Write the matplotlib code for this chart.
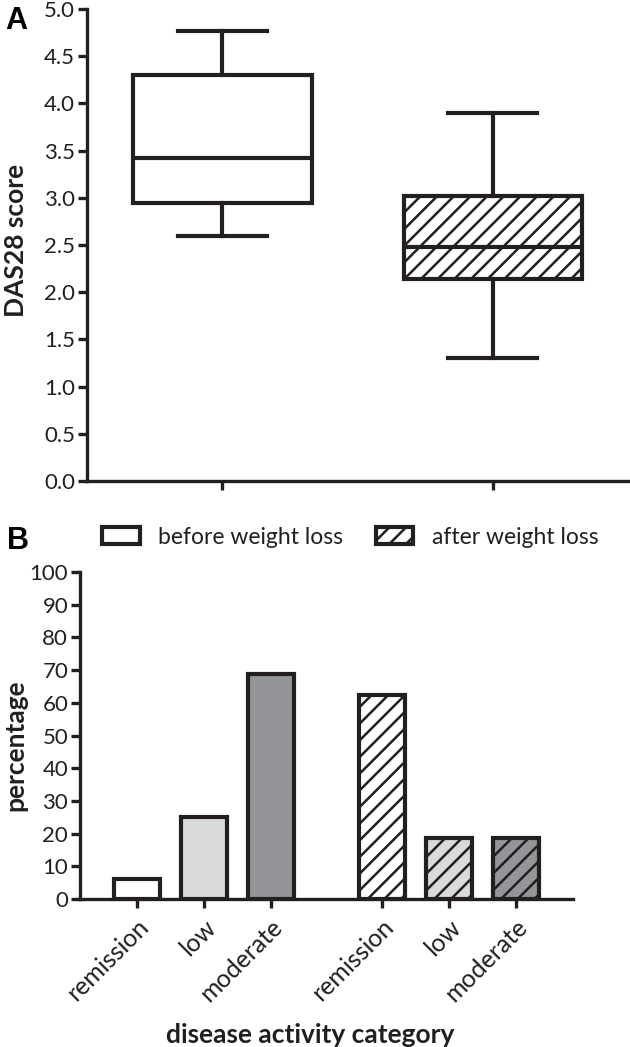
import matplotlib
matplotlib.use("Agg")
import matplotlib.pyplot as plt
from matplotlib.patches import Patch

# --- data ---
groups = ["before weight loss", "after weight loss"]
box_low = [2.6, 1.3]
box_q1 = [2.95, 2.14]
box_med = [3.42, 2.48]
box_q3 = [4.3, 3.02]
box_high = [4.77, 3.9]

categories = ["remission", "low", "moderate", "remission", "low", "moderate"]
pct_before = [6.25, 25.0, 68.75]
pct_after = [62.5, 18.75, 18.75]
bar_colors = ["#ffffff", "#d9dadc", "#949599"]

ink = "#231f20"
plt.rcParams["font.family"] = ["Lato", "DejaVu Sans"]
plt.rcParams["hatch.linewidth"] = 1.8
plt.rcParams["hatch.color"] = ink
plt.rcParams["text.color"] = ink
plt.rcParams["axes.labelcolor"] = ink
plt.rcParams["xtick.color"] = ink
plt.rcParams["ytick.color"] = ink

LW = 3.0

fig = plt.figure(figsize=(6.3, 10.47), dpi=100)

def style_axes(ax):
    for s in ["top", "right"]:
        ax.spines[s].set_visible(False)
    for s in ["left", "bottom"]:
        ax.spines[s].set_linewidth(2.4)
        ax.spines[s].set_color(ink)
    ax.tick_params(width=2.4, length=6.5, labelsize=16, pad=2)

# --- panel A: box plot ---
axA = fig.add_axes([0.138, 0.5406, 0.859, 0.4508])
stats = []
for i in range(len(groups)):
    stats.append(dict(whislo=box_low[i], q1=box_q1[i], med=box_med[i],
                      q3=box_q3[i], whishi=box_high[i], fliers=[], label=groups[i]))
bp = axA.bxp(stats, positions=[1, 2], widths=0.66, capwidths=0.33,
             patch_artist=True, showfliers=False,
             boxprops=dict(linewidth=LW, edgecolor=ink, facecolor="white"),
             medianprops=dict(linewidth=LW, color=ink),
             whiskerprops=dict(linewidth=LW, color=ink),
             capprops=dict(linewidth=LW, color=ink))
bp["boxes"][1].set_hatch("//")
axA.set_xlim(0.5, 2.5)
axA.set_ylim(0, 5)
axA.set_yticks([0, 0.5, 1, 1.5, 2, 2.5, 3, 3.5, 4, 4.5, 5])
axA.set_yticklabels([f"{v:.1f}" for v in axA.get_yticks()])
axA.set_xticks([1, 2])
axA.set_xticklabels(["", ""])
axA.set_ylabel("DAS28 score", fontsize=19, fontweight="bold", va="center")
axA.yaxis.set_label_coords(-0.131, 0.51)
style_axes(axA)

# --- panel B: bar chart ---
axB = fig.add_axes([0.127, 0.1413, 0.7825, 0.3124])
pos_before = [0, 1, 2]
pos_after = [3.657, 4.657, 5.657]
axB.bar(pos_before, pct_before, width=0.68, color=bar_colors,
        edgecolor=ink, linewidth=LW)
axB.bar(pos_after, pct_after, width=0.68, color=bar_colors,
        edgecolor=ink, linewidth=LW, hatch="//")
axB.set_xlim(-0.85, 6.51)
axB.set_ylim(0, 100)
axB.set_yticks(range(0, 101, 10))
axB.set_xticks(pos_before + pos_after)
axB.set_xticklabels(categories, rotation=45, ha="right", rotation_mode="anchor")
axB.set_ylabel("percentage", fontsize=19, fontweight="bold", va="center")
axB.yaxis.set_label_coords(-0.132, 0.47)
axB.set_xlabel("disease activity category", fontsize=19, fontweight="bold", va="center")
axB.xaxis.set_label_coords(0.467, -0.415)
style_axes(axB)
axB.tick_params(axis="x", pad=5, labelsize=18)

handles = [Patch(facecolor="white", edgecolor=ink, linewidth=LW),
           Patch(facecolor="white", edgecolor=ink, linewidth=LW, hatch="//")]
fig.legend(handles, groups, loc="center", bbox_to_anchor=(0.556, 0.487), ncol=2,
           frameon=False, fontsize=16.5, handlelength=1.65, handleheight=0.8,
           handletextpad=0.8, columnspacing=1.4)

fig.text(0.008, 0.994, "A", fontsize=22, fontweight="bold",
         family="Liberation Sans", va="top", color="black")
fig.text(0.011, 0.498, "B", fontsize=22, fontweight="bold",
         family="Liberation Sans", va="top", color="black")

fig.savefig("out.png", dpi=100)
